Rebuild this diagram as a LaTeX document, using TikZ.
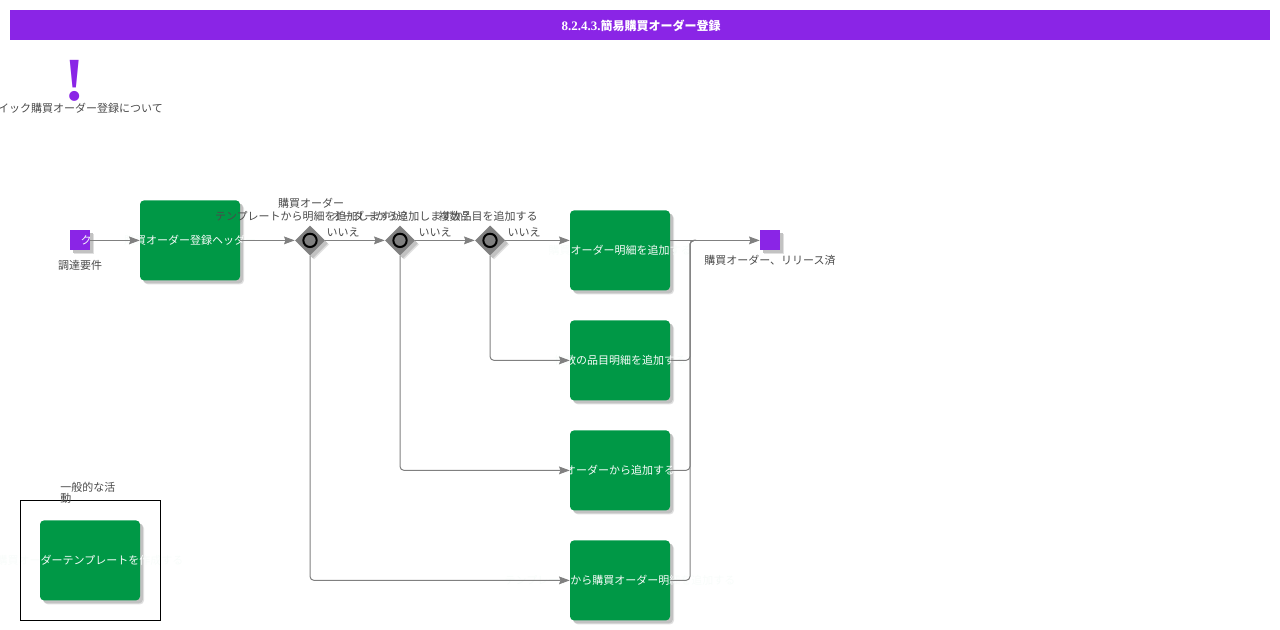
\documentclass[tikz,border=0pt]{standalone}
\usepackage{fontspec}
\setmainfont{Noto Sans CJK JP}
\newfontfamily\serifl{Liberation Serif}
\usetikzlibrary{arrows.meta,shapes.geometric,shadows,calc}
\definecolor{hdrpurple}{HTML}{8A25E6}
\definecolor{boxgreen}{HTML}{009846}
\definecolor{linegray}{HTML}{808080}
\definecolor{labelgray}{HTML}{4A4A4A}
\definecolor{tasktext}{HTML}{F8FCFA}
\newcommand{\ovr}[1]{\makebox[0pt][c]{#1}}
\tikzset{
  softshadow/.style={
    general shadow={shadow xshift=3pt,shadow yshift=-3pt,fill=black!12},
    general shadow={shadow xshift=2.2pt,shadow yshift=-2.2pt,fill=black!24}},
  taskbox/.style={rectangle,rounded corners=3pt,fill=boxgreen,minimum width=75pt,minimum height=60pt,inner sep=0pt,softshadow,text=tasktext,font=\fontsize{8.25pt}{10pt}\selectfont},
  eventbox/.style={rectangle,fill=hdrpurple,minimum width=15pt,minimum height=15pt,inner sep=0pt,softshadow},
  gateway/.style={diamond,aspect=1,fill=linegray,minimum width=22.5pt,minimum height=22.5pt,inner sep=0pt,softshadow},
  gatering/.style={circle,draw=black,line width=1.5pt,fill=linegray,minimum size=10pt,inner sep=0pt},
  flow/.style={draw=linegray,line width=0.75pt,rounded corners=3pt,-{Stealth[length=8pt,width=5.8pt,inset=1pt]}},
  plainline/.style={draw=linegray,line width=0.75pt},
  lbl/.style={text=labelgray,font=\fontsize{8.25pt}{10pt}\selectfont,inner sep=0pt,align=center},
  whitelbl/.style={text=tasktext,font=\fontsize{8.25pt}{10pt}\selectfont,inner sep=0pt},
}
\begin{document}
\begin{tikzpicture}[x=0.75pt,y=-0.75pt]
\useasboundingbox (0,-0.4) rectangle (1280,629.6);
% header
\node[rectangle,fill=hdrpurple,minimum width=945pt,minimum height=22.5pt,inner sep=0pt,text=white,font=\bfseries\fontsize{9pt}{11pt}\selectfont] (title) at (640,25) {\hspace{1.5pt}{\serifl\bfseries\fontsize{9.75pt}{11pt}\selectfont 8.2.4.3.}簡易購買オーダー登録};
% note
\node[text=hdrpurple,inner sep=0pt,font=\serifl\bfseries\fontsize{46pt}{46pt}\selectfont] (bang) at (75,80) {!};
\node[lbl] (banglbl) at (75,107.5) {クイック購買オーダー登録について};
% events
\node[eventbox] (start) at (80,240) {};
\node[eventbox] (end) at (770,240) {};
% tasks
\node[taskbox] (t0) at (190,240) {\ovr{購買オーダー登録ヘッダー}};
\node[taskbox] (ta) at (620,250) {\ovr{購買オーダー明細を追加する}};
\node[taskbox] (tb) at (620,360) {\ovr{複数の品目明細を追加する}};
\node[taskbox] (tc) at (620,470) {\ovr{オーダーから追加する}};
\node[taskbox] (td) at (620,580) {\ovr{テンプレートから購買オーダー明細を追加する}};
\node[taskbox] (te) at (90,560) {\ovr{購買オーダーテンプレートを作成する}};
% group frame, above the task text that overflows it
\node[draw=black,line width=0.75pt,minimum width=105pt,minimum height=90pt,inner sep=0pt] (grp) at (90.5,560.5) {};
\node[lbl,anchor=north west,align=left,font=\fontsize{8.25pt}{7.5pt}\selectfont] (grplbl) at (60,481.5) {一般的な活\\動};
% gateways
\node[gateway] (d1) at (310,240) {};
\node[gateway] (d2) at (400,240) {};
\node[gateway] (d3) at (490,240) {};
\node[gatering] (r1) at (d1) {};
\node[gatering] (r2) at (d2) {};
\node[gatering] (r3) at (d3) {};
% connectors
\coordinate (merge) at (690,240);
\draw[flow] (start) -- (t0);
\draw[flow] (t0) -- (d1);
\draw[flow] (d1) -- (d2);
\draw[flow] (d2) -- (d3);
\draw[flow] (d3) -- (d3 -| ta.west);
\draw[flow] (d3.south) |- (tb.west);
\draw[flow] (d2.south) |- (tc.west);
\draw[flow] (d1.south) |- (td.west);
\draw[flow] (ta.east |- end) -- (end.west);
\draw[plainline,rounded corners=3pt] (tb.east) -| (merge) -- ++(6,0);
\draw[plainline,rounded corners=3pt] (tc.east) -| (merge) -- ++(6,0);
\draw[plainline,rounded corners=3pt] (td.east) -| (merge) -- ++(6,0);
% labels
\node[whitelbl] (startlbl) at (86,240) {ク};
\node[lbl] (l0) at (80,265) {調達要件};
\node[lbl] (l9) at (770,260) {購買オーダー、リリース済};
\node[lbl] (q1) at (311,209.5) {購買オーダー\\テンプレートから明細を追加しますか?};
\node[lbl] (q2) at (400,216) {オーダーから追加しますか?};
\node[lbl] (q3) at (488,216) {複数品目を追加する};
\node[lbl] (n1) at (343,232) {いいえ};
\node[lbl] (n2) at (435,232) {いいえ};
\node[lbl] (n3) at (524,232) {いいえ};
\end{tikzpicture}
\end{document}
